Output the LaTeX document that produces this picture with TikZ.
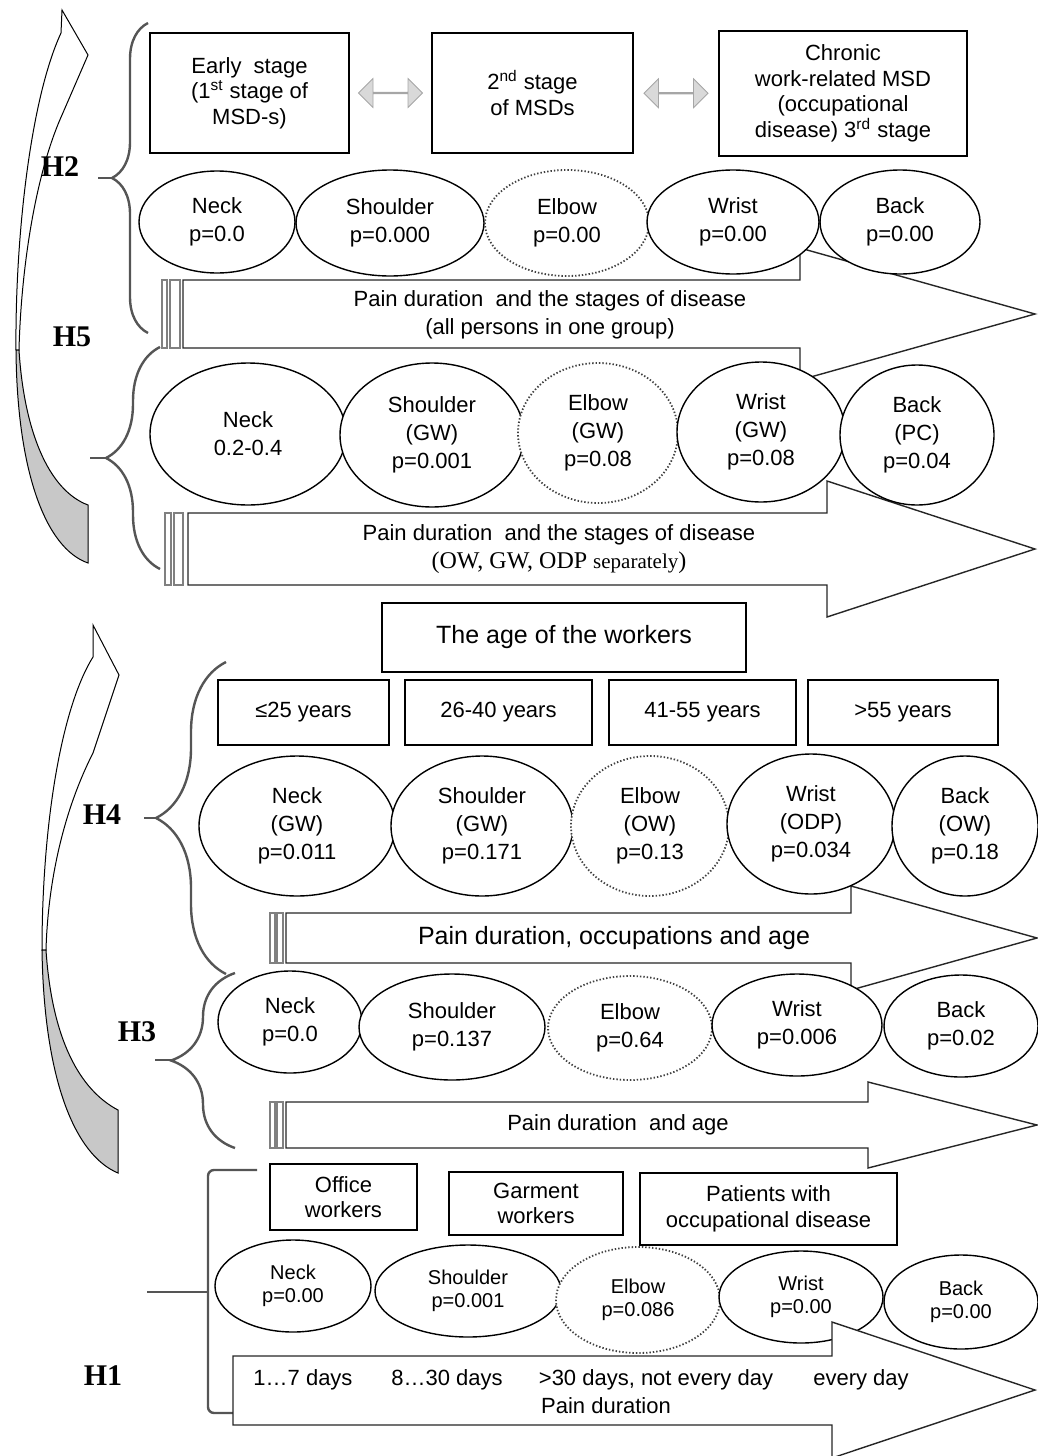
\documentclass[tikz,border=0pt]{standalone}
\usepackage{fontspec}
\setmainfont{Liberation Sans}
\newfontfamily\hypfont{Liberation Serif}
\usepackage{tikz}
\usetikzlibrary{shapes,arrows.meta,positioning,calc,decorations.pathreplacing}
\definecolor{bracegray}{RGB}{85, 85, 85}
\definecolor{swapgray}{RGB}{217, 217, 217}
\definecolor{backgray}{RGB}{200, 200, 200}

\begin{document}
\begin{tikzpicture}[
  x=0.5pt, y=-0.5pt,
  every node/.style={font=\fontsize{11}{14}\selectfont, align=center},
  box/.style={draw, line width=0.9pt, fill=white, inner sep=2pt,
              font=\fontsize{11}{12.8}\selectfont},
  bodypart/.style={ellipse, draw, line width=0.7pt, fill=white, inner sep=0pt},
  dotpart/.style={bodypart, draw=black!75, densely dotted, line width=0.9pt},
  hone/.style={font=\fontsize{10}{11.5}\selectfont},
  band/.style={draw=black!85, fill=white, line width=0.7pt},
  stripe/.style={draw=gray, fill=white, line width=0.6pt},
  grp/.style={decorate, decoration={brace, amplitude=#1}, draw=bracegray, line width=1.2pt},
  stub/.style={draw=bracegray, line width=1.2pt},
  hyp/.style={font=\hypfont\bfseries\fontsize{15}{15}\selectfont},
  dblarr/.style={double arrow, draw=gray!70, fill=swapgray, inner sep=0pt,
                 minimum width=14.5pt, minimum height=32pt, double arrow head extend=4.5pt},
  curlarr/.style={draw=black, line width=0.5pt, fill=white},
  curlback/.style={draw=black, line width=0.5pt, fill=backgray},
]
\useasboundingbox (0,0) rectangle (1038,1456);

% Curved arrows on the left
\draw[curlarr] (62,10) -- (88,55) -- (62,115) .. controls (35,175) and (21,270) .. (19,350)
  -- (16,350) .. controls (15,240) and (30,100) .. (61,33) -- cycle;
\draw[curlback] (16,350) .. controls (17,470) and (45,548) .. (88,563) -- (88,505)
  .. controls (48,490) and (24,430) .. (19,350) -- cycle;
\draw[curlarr] (93,625) -- (119,675) -- (93,753) .. controls (64,810) and (48,880) .. (46,950)
  -- (42,950) .. controls (42,830) and (60,710) .. (93,657) -- cycle;
\draw[curlback] (42,950) .. controls (44,1080) and (75,1155) .. (118,1173) -- (118,1110)
  .. controls (80,1090) and (52,1040) .. (46,950) -- cycle;

% Hypotheses
\node[hyp] (h2) at (60,167)   {H2};
\node[hyp] (h5) at (72,337)   {H5};
\node[hyp] (h4) at (102,815)  {H4};
\node[hyp] (h3) at (137,1032) {H3};
\node[hyp] (h1) at (103,1376) {H1};

% Braces
\draw[grp=18pt] (148,333) -- (148,23);
\draw[stub] (112,178) -- (98,178);
\draw[grp=27pt] (160,569) -- (160,347);
\draw[stub] (106,458) -- (90,458);
\draw[grp=35pt] (226,974) -- (226,662);
\draw[stub] (156,818) -- (144,818);
\draw[grp=32pt] (235,1148) -- (235,973);
\draw[stub] (171,1060) -- (155,1060);
\draw[stub, rounded corners=3pt] (257,1170) -- (208,1170) -- (208,1413) -- (233,1413);
\draw[stub] (208,1292) -- (147,1292);

% Pain duration arrows
\draw[stripe] (162,280) rectangle (167,348);
\draw[stripe] (170,280) rectangle (180,348);
\draw[band] (183,280) -- (800,280) -- (800,248) -- (1035,314) -- (800,380) -- (800,348) -- (183,348) -- cycle;
\node (pain2) at (550,315) {Pain duration~ and the stages of disease\\(all persons in one group)};

\draw[stripe] (165,513) rectangle (171,585);
\draw[stripe] (174,513) rectangle (183,585);
\draw[band] (188,513) -- (827,513) -- (827,481) -- (1035,549) -- (827,617) -- (827,585) -- (188,585) -- cycle;
\node (pain5) at (559,549) {Pain duration~ and the stages of disease\\
  {\hypfont\fontsize{12}{13}\selectfont (OW, GW, ODP {\fontsize{10.5}{13}\selectfont separately})}};

\draw[stripe] (270,913) rectangle (275,963);
\draw[stripe] (277,913) rectangle (283,963);
\draw[band] (286,913) -- (851,913) -- (851,886) -- (1037,938) -- (851,990) -- (851,963) -- (286,963) -- cycle;
\node[font=\fontsize{12.5}{15}\selectfont] (pain4) at (614,938) {Pain duration, occupations and age};

\draw[stripe] (270,1102) rectangle (275,1148);
\draw[stripe] (277,1102) rectangle (283,1148);
\draw[band] (286,1102) -- (868,1102) -- (868,1082) -- (1037,1125) -- (868,1168) -- (868,1148) -- (286,1148) -- cycle;
\node (pain3) at (618,1125) {Pain duration~ and age};

% H2: stages of disease
\node[box, minimum width=99.5pt, minimum height=60pt] (early) at (249.5,93) {Early~ stage\\(1\textsuperscript{st} stage of\\MSD-s)};
\node[box, minimum width=100.5pt, minimum height=60pt] (second) at (532.5,93) {2\textsuperscript{nd} stage\\of MSDs};
\node[box, minimum width=124pt, minimum height=62.5pt] (chronic) at (843,93.5) {Chronic\\work-related MSD\\(occupational\\disease) 3\textsuperscript{rd} stage};
\node[dblarr] (swap1) at ($(early.east)!0.5!(second.west)$) {};
\node[dblarr] (swap2) at ($(second.east)!0.5!(chronic.west)$) {};

\node[bodypart, minimum width=78pt, minimum height=51pt] (neck2) at (217,222) {Neck\\p=0.0};
\node[bodypart, minimum width=94pt, minimum height=53pt] (shoulder2) at (390,223) {Shoulder\\p=0.000};
\node[dotpart, minimum width=82pt, minimum height=53pt] (elbow2) at (567,223) {Elbow\\p=0.00};
\node[bodypart, minimum width=86pt, minimum height=52pt] (wrist2) at (733,222) {Wrist\\p=0.00};
\node[bodypart, minimum width=80pt, minimum height=52pt] (back2) at (900,222) {Back\\p=0.00};

% H5: occupations separately
\node[bodypart, minimum width=98pt, minimum height=71pt] (neck5) at (248,434) {Neck\\0.2-0.4};
\node[bodypart, minimum width=92pt, minimum height=72pt] (shoulder5) at (432,435) {Shoulder\\(GW)\\p=0.001};
\node[dotpart, minimum width=80pt, minimum height=70pt] (elbow5) at (598,433) {Elbow\\(GW)\\p=0.08};
\node[bodypart, minimum width=84pt, minimum height=70pt] (wrist5) at (761,432) {Wrist\\(GW)\\p=0.08};
\node[bodypart, minimum width=77pt, minimum height=70pt] (back5) at (917,435) {Back\\(PC)\\p=0.04};

% H4: age groups
\node[box, minimum width=182pt, minimum height=34.5pt, font=\fontsize{12.5}{15}\selectfont] (agetitle) at (564,637.5) {The age of the workers};
\node[box, minimum width=85.5pt, minimum height=32.5pt] (age1) at (303.5,712.5) {≤25 years};
\node[box, minimum width=93.5pt, minimum height=32.5pt] (age2) at (498.5,712.5) {26-40 years};
\node[box, minimum width=93.5pt, minimum height=32.5pt] (age3) at (702.5,712.5) {41-55 years};
\node[box, minimum width=95pt, minimum height=32.5pt] (age4) at (903,712.5) {>55 years};

\node[bodypart, minimum width=98pt, minimum height=70pt] (neck4) at (297,826) {Neck\\(GW)\\p=0.011};
\node[bodypart, minimum width=91pt, minimum height=70pt] (shoulder4) at (482,826) {Shoulder\\(GW)\\p=0.171};
\node[dotpart, minimum width=79pt, minimum height=70pt] (elbow4) at (650,826) {Elbow\\(OW)\\p=0.13};
\node[bodypart, minimum width=84pt, minimum height=70pt] (wrist4) at (811,824) {Wrist\\(ODP)\\p=0.034};
\node[bodypart, minimum width=73pt, minimum height=70pt] (back4) at (965,826) {Back\\(OW)\\p=0.18};

% H3: age
\node[bodypart, minimum width=72pt, minimum height=51pt] (neck3) at (290,1022) {Neck\\p=0.0};
\node[bodypart, minimum width=93pt, minimum height=53pt] (shoulder3) at (452,1027) {Shoulder\\p=0.137};
\node[dotpart, minimum width=82pt, minimum height=52pt] (elbow3) at (630,1028) {Elbow\\p=0.64};
\node[bodypart, minimum width=85pt, minimum height=51pt] (wrist3) at (797,1025) {Wrist\\p=0.006};
\node[bodypart, minimum width=77pt, minimum height=51pt] (back3) at (961,1026) {Back\\p=0.02};

% H1: occupations
\node[box, minimum width=73.5pt, minimum height=33pt] (office) at (343.5,1197) {Office\\workers};
\node[box, minimum width=87pt, minimum height=31.5pt] (garment) at (536,1203.5) {Garment\\workers};
\node[box, minimum width=128.5pt, minimum height=36pt] (patients) at (768.5,1209) {Patients with\\occupational disease};

\node[bodypart, hone, minimum width=78pt, minimum height=46pt] (neck1) at (293,1286) {Neck\\p=0.00};
\node[bodypart, hone, minimum width=93pt, minimum height=46pt] (shoulder1) at (468,1291) {Shoulder\\p=0.001};
\node[dotpart, hone, minimum width=82pt, minimum height=53pt] (elbow1) at (638,1300) {Elbow\\p=0.086};
\node[bodypart, hone, minimum width=82pt, minimum height=46pt] (wrist1) at (801,1297) {Wrist\\p=0.00};
\node[bodypart, hone, minimum width=77pt, minimum height=47pt] (back1) at (961,1302) {Back\\p=0.00};

\draw[band] (233,1356) -- (832,1356) -- (832,1322) -- (1035,1390) -- (832,1458) -- (832,1425) -- (233,1425) -- cycle;
\node (days1) at (303,1380) {1…7 days};
\node (days2) at (447,1380) {8…30 days};
\node (days3) at (656,1380) {>30 days, not every day};
\node (days4) at (861,1380) {every day};
\node (pain1) at (606,1406) {Pain duration};

\end{tikzpicture}
\end{document}
